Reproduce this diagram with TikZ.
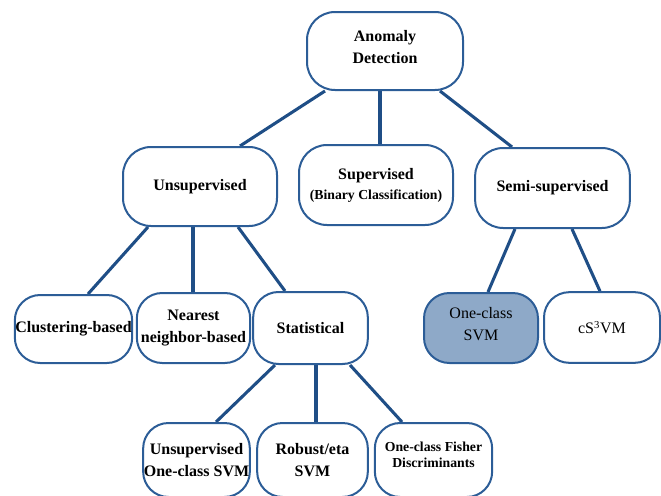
\documentclass[tikz,border=0pt]{standalone}
\usepackage{fontspec}
\setmainfont{Liberation Serif}
\usetikzlibrary{calc,backgrounds}
\definecolor{edgeblue}{HTML}{1F4E86}
\definecolor{boxblue}{HTML}{2C5D97}
\definecolor{fillblue}{HTML}{8EA9C8}
\begin{document}
\begin{tikzpicture}[x=0.75pt,y=-0.75pt,
  box/.style={draw=boxblue, line width=1.5pt, fill=white, rounded corners=21pt,
    align=center, inner sep=0pt, font=\fontsize{12}{16.5}\selectfont\bfseries},
  smallbox/.style={box, rounded corners=19pt},
  link/.style={draw=edgeblue, line width=2.3pt}]
\useasboundingbox (0,0) rectangle (661,496);
% level 0
\node[box, minimum width=117pt, minimum height=58.5pt] (root) at (385,51) {Anomaly\\Detection\\[-10.5pt]};
% level 1
\node[box, minimum width=115.5pt, minimum height=59.25pt] (unsup) at (200,186.5) {Unsupervised};
\node[box, minimum width=115.5pt, minimum height=60pt] (sup) at (376,185)
  {Supervised\\[-1.5pt]{\fontsize{10.3}{12}\selectfont (Binary Classification)}};
\node[box, minimum width=116pt, minimum height=60pt] (semi) at (552.5,188) {Semi-supervised};
% level 2
\node[smallbox, minimum width=88pt, minimum height=51pt] (clust) at (73.5,329) {Clustering-based};
\node[smallbox, minimum width=85pt, minimum height=52.5pt] (near) at (193.5,328) {Nearest\\neighbor-based};
\node[smallbox, minimum width=86pt, minimum height=54pt] (stat) at (310.5,328) {Statistical};
\node[smallbox, fill=fillblue, font=\fontsize{12}{16.5}\selectfont, minimum width=85.5pt, minimum height=52.5pt] (ocsvm) at (481,328) {One-class\\SVM\\[-10pt]};
\node[smallbox, font=\fontsize{12}{16.5}\selectfont, minimum width=87pt, minimum height=53pt] (cs3vm) at (602,327.5) {cS\textsuperscript{3}VM};
% level 3
\node[smallbox, minimum width=80pt, minimum height=55.5pt] (uocs) at (196.5,460) {Unsupervised\\One-class SVM};
\node[smallbox, minimum width=83pt, minimum height=55.5pt] (robust) at (312.5,460) {Robust/eta\\SVM};
\node[smallbox, minimum width=88pt, minimum height=55.5pt, font=\fontsize{10.3}{12.5}\selectfont\bfseries] (fisher) at (433.5,460) {One-class Fisher\\Discriminants\\[-4.5pt]};
% connectors
\begin{scope}[on background layer]
\draw[link] ($(root.south)+(-60,0)$) -- ($(unsup.north)+(40,0)$);
\draw[link] ($(root.south)+(-5,0)$) -- ($(sup.north)+(4,0)$);
\draw[link] ($(root.south)+(55,0)$) -- ($(semi.north)+(-40.5,0)$);
\draw[link] ($(unsup.south)+(-52,0)$) -- ($(clust.north)+(14.5,0)$);
\draw[link] ($(unsup.south)+(-7,0)$) -- ($(near.north)+(-0.5,0)$);
\draw[link] ($(unsup.south)+(38,0)$) -- ($(stat.north)+(-25.5,0)$);
\draw[link] ($(stat.south)+(-35.5,0)$) -- ($(uocs.north)+(19.5,0)$);
\draw[link] ($(stat.south)+(5.5,0)$) -- ($(robust.north)+(3.5,0)$);
\draw[link] ($(stat.south)+(39.5,0)$) -- ($(fisher.north)+(-31.5,0)$);
\draw[link] ($(semi.south)+(-37.5,0)$) -- ($(ocsvm.north)+(7,0)$);
\draw[link] ($(semi.south)+(19.5,0)$) -- ($(cs3vm.north)+(-2,0)$);
\end{scope}
\end{tikzpicture}
\end{document}
